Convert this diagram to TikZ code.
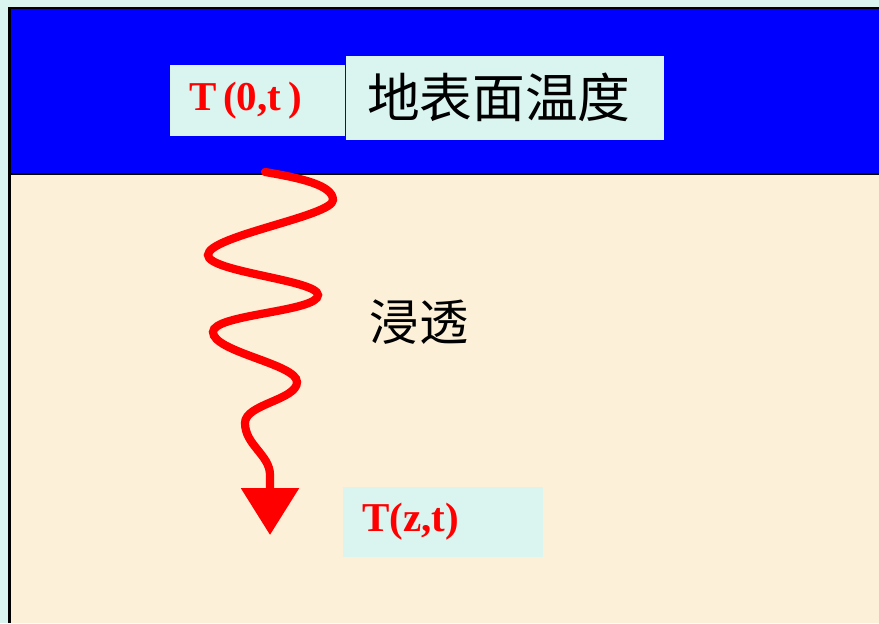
\documentclass[tikz,border=0pt]{standalone}
\usepackage{fontspec}
\setmainfont{Liberation Serif}
\newfontfamily\cjk{Noto Sans CJK SC}
\usetikzlibrary{
    positioning,           % Relative positioning
    arrows.meta            % Modern arrow tips
}
\definecolor{paleaqua}{RGB}{218,244,240}
\definecolor{surfblue}{RGB}{0,0,255}
\definecolor{soilbeige}{RGB}{252,240,216}

\begin{document}
\begin{tikzpicture}[x=0.03cm,y=-0.03cm,
    tempbox/.style={fill=paleaqua, inner xsep=0.58cm, inner ysep=0pt, text=red,
        font=\bfseries\fontsize{35}{40}\selectfont, align=left, minimum height=2.12cm},
    cjkbox/.style={fill=paleaqua, inner sep=0pt, font=\cjk\fontsize{45}{50}\selectfont},
    heatflow/.style={red, line width=7pt, line cap=round,
        -{Triangle[length=40pt,width=48pt]}}]
    % background and frame
    \fill[paleaqua] (0,0) rectangle (879,623);
    \useasboundingbox (0,0) rectangle (879,623);
    \fill[soilbeige] (9,174) rectangle (879,623);
    \fill[surfblue] (9,8) rectangle (879,174);
    \draw[line width=2pt] (879,8) -- (9.5,8) -- (9.5,623);
    \draw[line width=2pt] (9.5,174) -- (879,174);
    % labels
    \node[tempbox, text width=4.1cm] (tsurf) at (257.5,100.5) {T\,(0,t\,)};
    \node[cjkbox, minimum width=9.54cm, minimum height=2.52cm, right=0pt of tsurf, yshift=2.5pt] (surftemp) {\hspace*{-0.35cm}地表面温度};
    \node[font=\cjk\fontsize{42}{46}\selectfont] (soak) at (419,322) {浸透};
    \node[tempbox, text width=4.84cm, minimum height=2.1cm] (tdeep) at (443,522) {T(z,t)};
    % wavy heat flow
    \coordinate (top) at (265,172);
    \coordinate (tip) at (270,535);
    \draw[heatflow] (top) .. controls (300,178) and (333,185) .. (333,200)
        .. controls (333,216) and (208,236) .. (208,255)
        .. controls (208,272) and (318,280) .. (318,295)
        .. controls (318,312) and (213,314) .. (213,332)
        .. controls (213,352) and (297,364) .. (297,382)
        .. controls (297,400) and (245,404) .. (245,423)
        .. controls (245,445) and (270,455) .. (270,475)
        -- (tip);
\end{tikzpicture}
\end{document}
